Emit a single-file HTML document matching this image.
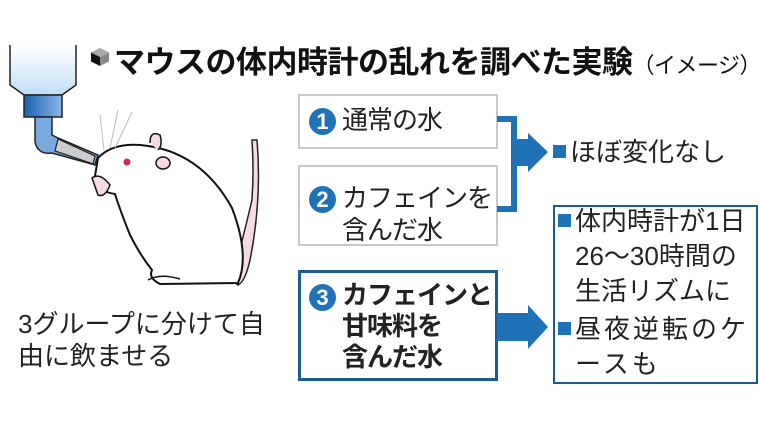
<!DOCTYPE html>
<html><head><meta charset="utf-8"><style>
body{margin:0;width:760px;height:428px;background:#fff;position:relative;overflow:hidden;font-family:"Liberation Sans","Noto Sans CJK JP",sans-serif;color:#222}
.a{position:absolute;white-space:nowrap}
.box{position:absolute;box-sizing:border-box;background:#fff}
.num{position:absolute;width:27px;height:27px;border-radius:50%;background:#1f72b8;color:#fff;font-size:22px;line-height:27px;text-align:center;font-weight:bold}
.t{font-size:27px;line-height:32px}
.lt{font-size:26px;letter-spacing:-1px}
.sq{display:inline-block;width:13px;height:13px;background:#1f72b8;margin-right:4px;vertical-align:3px}
</style></head><body>
<svg class="a" style="left:0;top:0" width="300" height="300">
<defs><linearGradient id="g" x1="0" y1="0" x2="0" y2="1"><stop offset="0" stop-color="#fff"/><stop offset="1" stop-color="#bfe0f6"/></linearGradient>
<linearGradient id="n" x1="0" y1="0" x2="1" y2="0"><stop offset="0" stop-color="#1a5fb0"/><stop offset="1" stop-color="#8ab8e8"/></linearGradient></defs>
<path d="M10 45 L10 85 L24 95 L62 95 L76 85 L76 45" fill="url(#g)" stroke="#222" stroke-width="1.5"/>
<rect x="24" y="95" width="38" height="22" fill="url(#n)" stroke="#222" stroke-width="1.5"/>
<path d="M35 117 L35 142 Q38 155 52 153 L95 165 L98 155 L58 138 L52 135 L52 117 Z" fill="#7aa9de" stroke="#222" stroke-width="1.5"/>
<path d="M58 139 L95 156 L93 164 L55 151 Z" fill="#ccc" stroke="#222" stroke-width="1.2"/>
<path d="M257 140 Q262 200 250 260 Q245 282 238 285 L232 280 Q240 250 252 200 Q254 170 252 140 Z" fill="#f7dbe0" stroke="#222" stroke-width="1.5"/>
<path d="M98 158 Q112 143 140 145 Q200 150 232 208 Q250 255 238 283 L160 284 Q148 278 152 270 Q140 255 130 235 Q120 210 115 194 Q98 192 95 176 Z" fill="#fff" stroke="#111" stroke-width="2"/>
<path d="M150 143 Q150 130 160 135 Q163 145 158 150" fill="#f7dbe0" stroke="#111" stroke-width="1.5"/>
<ellipse cx="163" cy="163" rx="7" ry="6" fill="#f7dbe0" stroke="#111" stroke-width="1.5"/>
<circle cx="127" cy="162" r="3.5" fill="#d02a4a"/>
<path d="M92 178 Q100 172 110 185 Q105 198 98 195 Z" fill="#f7dbe0" stroke="#111" stroke-width="1.5"/>
<path d="M148 280 Q160 273 180 279" fill="none" stroke="#111" stroke-width="1.5"/>
<path d="M104 150 L100 115 M110 148 L118 110 M115 148 L132 112" stroke="#bbb" stroke-width="1"/>
</svg>
<svg class="a" style="top:47px;left:90px" width="20" height="20"><path d="M10 1 L19 5.5 L10 10 L1 5.5Z" fill="#aaa"/><path d="M1 5.5 L10 10 L10 19 L1 14.5Z" fill="#111"/><path d="M19 5.5 L10 10 L10 19 L19 14.5Z" fill="#888"/></svg>
<div class="a" style="left:114px;top:37px;font-size:31px;font-weight:bold;color:#111;letter-spacing:-0.5px">マウスの体内時計の乱れを調べた実験<span style="font-size:22px;font-weight:normal">（イメージ）</span></div>

<div class="box" style="left:298px;top:94px;width:200px;height:55px;border:2px solid #c8c8c8"></div>
<div class="num" style="left:309px;top:108px">1</div>
<div class="a t lt" style="left:342px;top:104px">通常の水</div>
<div class="box" style="left:298px;top:165px;width:200px;height:81px;border:2px solid #c8c8c8"></div>
<div class="num" style="left:309px;top:186px">2</div>
<div class="a t lt" style="left:342px;top:182px">カフェインを<br>含んだ水</div>
<div class="box" style="left:298px;top:270px;width:200px;height:111px;border:3px solid #1d5c91"></div>
<div class="num" style="left:309px;top:284px">3</div>
<div class="a t lt" style="left:342px;top:280px;font-weight:bold;line-height:31px">カフェインと<br>甘味料を<br>含んだ水</div>

<svg class="a" style="left:496px;top:110px" width="60" height="240">
<path d="M1 6 L21 6 L21 102 L1 102 L1 96 L15 96 L15 12 L1 12Z" fill="#1f72b8"/>
<path d="M21 29 L32 29 L32 23 L52 42 L32 62 L32 56 L21 56Z" fill="#1f72b8"/>
<path d="M1 203 L32 203 L32 195 L52 217 L32 239 L32 231 L1 231Z" fill="#1f72b8"/>
</svg>
<div class="a t" style="left:553px;top:136px;font-size:26px"><span class="sq"></span>ほぼ変化なし</div>
<div class="box" style="left:553px;top:205px;width:205px;height:179px;border:2px solid #1d5c91"></div>
<div class="a t" style="left:558px;top:204px;line-height:35px;font-size:26px"><span class="sq"></span>体内時計が1日<br><span style="padding-left:17px">26～30時間の</span><br><span style="padding-left:17px">生活リズムに</span></div>
<div class="a t" style="left:558px;top:312px;line-height:35px;letter-spacing:3px;font-size:26px"><span class="sq"></span>昼夜逆転のケ<br><span style="padding-left:17px">ースも</span></div>

<div class="a" style="left:18px;top:308px;font-size:26px;line-height:32px">3グループに分けて自<br>由に飲ませる</div>
</body></html>
